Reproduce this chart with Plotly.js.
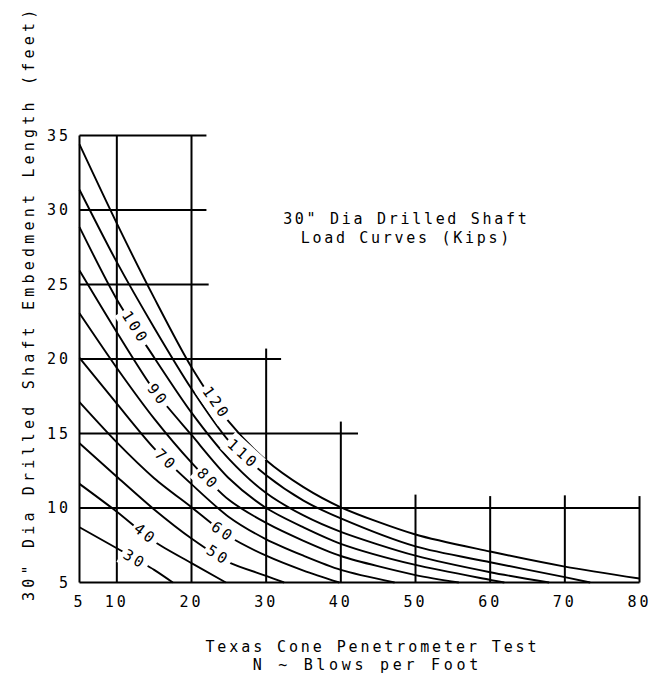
<!DOCTYPE html>
<html><head><meta charset="utf-8">
<script src="https://cdn.plot.ly/plotly-3.0.1.min.js"></script>
<style>
html,body{margin:0;padding:0;background:#fff;}
#chart{width:654px;height:685px;}
text{letter-spacing:3px;}
g.annotation[data-index="10"] text, g.annotation[data-index="11"] text{letter-spacing:2.7px;}
g.annotation[data-index="12"] text{letter-spacing:2.9px;}
g.annotation[data-index="13"] text{letter-spacing:3.7px;}
g.annotation[data-index="14"] text{letter-spacing:4.2px;}
</style></head><body><div id="chart"></div>
<script>
// Load curves (kips): N (blows per foot) vs embedment length (feet)
const loads = [30, 40, 50, 60, 70, 80, 90, 100, 110, 120];
const n30  = [5, 10, 15, 17.5];
const l30  = [8.71, 7.3, 5.85, 5.0];
const n40  = [5, 10, 15, 20, 24.6];
const l40  = [11.62, 9.75, 7.75, 6.3, 5.0];
const n50  = [5, 10, 15, 20, 25, 30, 32.4];
const l50  = [14.35, 12.1, 9.9, 7.95, 6.35, 5.45, 5.0];
const n60  = [5, 10, 15, 20, 25, 30, 35, 39.8];
const l60  = [17.1, 14.4, 12.0, 10.05, 8.1, 6.8, 5.8, 5.0];
const n70  = [5, 10, 15, 20, 25, 30, 35, 40, 47.2];
const l70  = [20.08, 17.0, 14.0, 11.6, 9.4, 7.9, 6.8, 5.85, 5.0];
const n80  = [5, 10, 15, 20, 25, 30, 35, 40, 50, 55.8];
const l80  = [23.07, 19.4, 16.0, 13.05, 10.55, 9.0, 7.8, 6.78, 5.5, 5.0];
const n90  = [5, 10, 15, 20, 25, 30, 35, 40, 50, 60, 61.9];
const l90  = [25.94, 21.8, 17.9, 14.9, 12.0, 10.0, 8.7, 7.6, 6.18, 5.18, 5.0];
const n100 = [5, 10, 15, 20, 25, 30, 35, 40, 50, 60, 67.9];
const l100 = [28.85, 24.0, 20.1, 16.4, 13.3, 11.0, 9.5, 8.4, 6.8, 5.69, 5.0];
const n110 = [5, 10, 15, 20, 25, 30, 35, 40, 50, 60, 70, 73.4];
const l110 = [31.36, 26.5, 22.1, 18.0, 14.5, 12.2, 10.5, 9.3, 7.42, 6.36, 5.36, 5.0];
const n120 = [5, 10, 15, 20, 25, 30, 35, 40, 50, 60, 70, 80];
const l120 = [34.4, 29.1, 24.1, 19.45, 15.8, 13.2, 11.4, 10.05, 8.22, 7.08, 6.07, 5.27];
// where each curve's load value is written (N position along the curve)
const labelN = [12.4, 13.8, 23.5, 24.2, 16.6, 22.2, 15.5, 12.4, 26.9, 23.3];

// stepped grid
const hLevels = [35, 30, 25, 20, 15, 10];
const hEnds   = [22, 22, 22.3, 32, 42.3, 80];
const vLevels = [10, 20, 30, 40, 50, 60, 70, 80];
const vTops   = [35, 35, 20.7, 15.8, 10.9, 10.8, 10.85, 10.8];

const xTicks = [5, 10, 20, 30, 40, 50, 60, 70, 80];
const yTicks = [5, 10, 15, 20, 25, 30, 35];

const chartTitle = ['30" Dia Drilled Shaft', 'Load Curves (Kips)'];
const xTitle = ['Texas Cone Penetrometer Test', 'N ~ Blows per Foot'];
const yTitle = '30" Dia Drilled Shaft Embedment Length (feet)';

const curvesN = [n30, n40, n50, n60, n70, n80, n90, n100, n110, n120];
const curvesL = [l30, l40, l50, l60, l70, l80, l90, l100, l110, l120];

const FONT = 'DejaVu Sans Mono, monospace';
const W = 654, H = 685, ML = 78, MR = 13, MT = 134, MB = 101;
const XR = [4.8, 80.2], YR = [4.9, 35.1];
const PW = W - ML - MR, PH = H - MT - MB;
const pxN = PW / (XR[1] - XR[0]);
const pxL = PH / (YR[1] - YR[0]);

function interp(xs, ys, x) {
  for (let i = 0; i < xs.length - 1; i++) {
    if (x >= xs[i] && x <= xs[i + 1]) {
      const t = (x - xs[i]) / (xs[i + 1] - xs[i]);
      return ys[i] + t * (ys[i + 1] - ys[i]);
    }
  }
  return ys[ys.length - 1];
}

const traces = curvesN.map((ns, i) => ({
  type: 'scatter', mode: 'lines', x: ns, y: curvesL[i],
  name: String(loads[i]), hoverinfo: 'x+y+name',
  line: {color: '#000', width: 1.9, shape: 'spline', smoothing: 0.8}
}));

const shapes = [];
const ln = (x0, y0, x1, y1) => shapes.push({type: 'line', xref: 'x', yref: 'y',
  x0, y0, x1, y1, line: {color: '#000', width: 2}, layer: 'below'});
hLevels.forEach((lv, i) => ln(5, lv, hEnds[i], lv));
vLevels.forEach((nv, i) => ln(nv, 5, nv, vTops[i]));
ln(5, 5, 5, 35);
ln(5, 5, 80, 5);

const annotations = [];
loads.forEach((q, i) => {
  const n = labelN[i];
  const ns = curvesN[i], ls = curvesL[i];
  const y = interp(ns, ls, n);
  const slope = (interp(ns, ls, n - 1.5) - interp(ns, ls, n + 1.5)) / 3;
  const ang = Math.atan(slope * pxL / pxN) * 180 / Math.PI;
  annotations.push({x: n, y: y, xref: 'x', yref: 'y', text: String(q), showarrow: false,
    textangle: ang, bgcolor: '#fff', borderpad: 2,
    font: {family: FONT, size: 15, color: '#000'}, xanchor: 'center', yanchor: 'middle'});
});
const paperTxt = (text, px, py, size, extra) => annotations.push(Object.assign({
  text, xref: 'paper', yref: 'paper', x: (px - ML) / PW, y: (H - MB - py) / PH,
  showarrow: false, xanchor: 'center', yanchor: 'middle',
  font: {family: FONT, size: size, color: '#000'}}, extra || {}));
paperTxt(chartTitle[0], 406, 219.5, 15);
paperTxt(chartTitle[1], 406, 237.5, 15);
paperTxt(xTitle[0], 372, 647, 15);
paperTxt(xTitle[1], 367, 665, 15);
paperTxt(yTitle, 29, 304, 15, {textangle: -90});

const layout = {
  width: W, height: H,
  margin: {l: ML, r: MR, t: MT, b: MB, pad: 0},
  paper_bgcolor: '#fff', plot_bgcolor: '#fff',
  showlegend: false,
  font: {family: FONT, size: 15, color: '#000'},
  xaxis: {range: XR, tickvals: xTicks, ticktext: xTicks.map(String), showgrid: false,
    zeroline: false, showline: false, ticks: '', ticklabelstandoff: 7,
    tickfont: {family: FONT, size: 15, color: '#000'}, fixedrange: true},
  yaxis: {range: YR, tickvals: yTicks, ticktext: yTicks.map(String), showgrid: false,
    zeroline: false, showline: false, ticks: '', ticklabelstandoff: 6,
    tickfont: {family: FONT, size: 15, color: '#000'}, fixedrange: true},
  shapes: shapes,
  annotations: annotations
};

Plotly.newPlot('chart', traces, layout, {displayModeBar: false, staticPlot: true});
</script></body></html>
